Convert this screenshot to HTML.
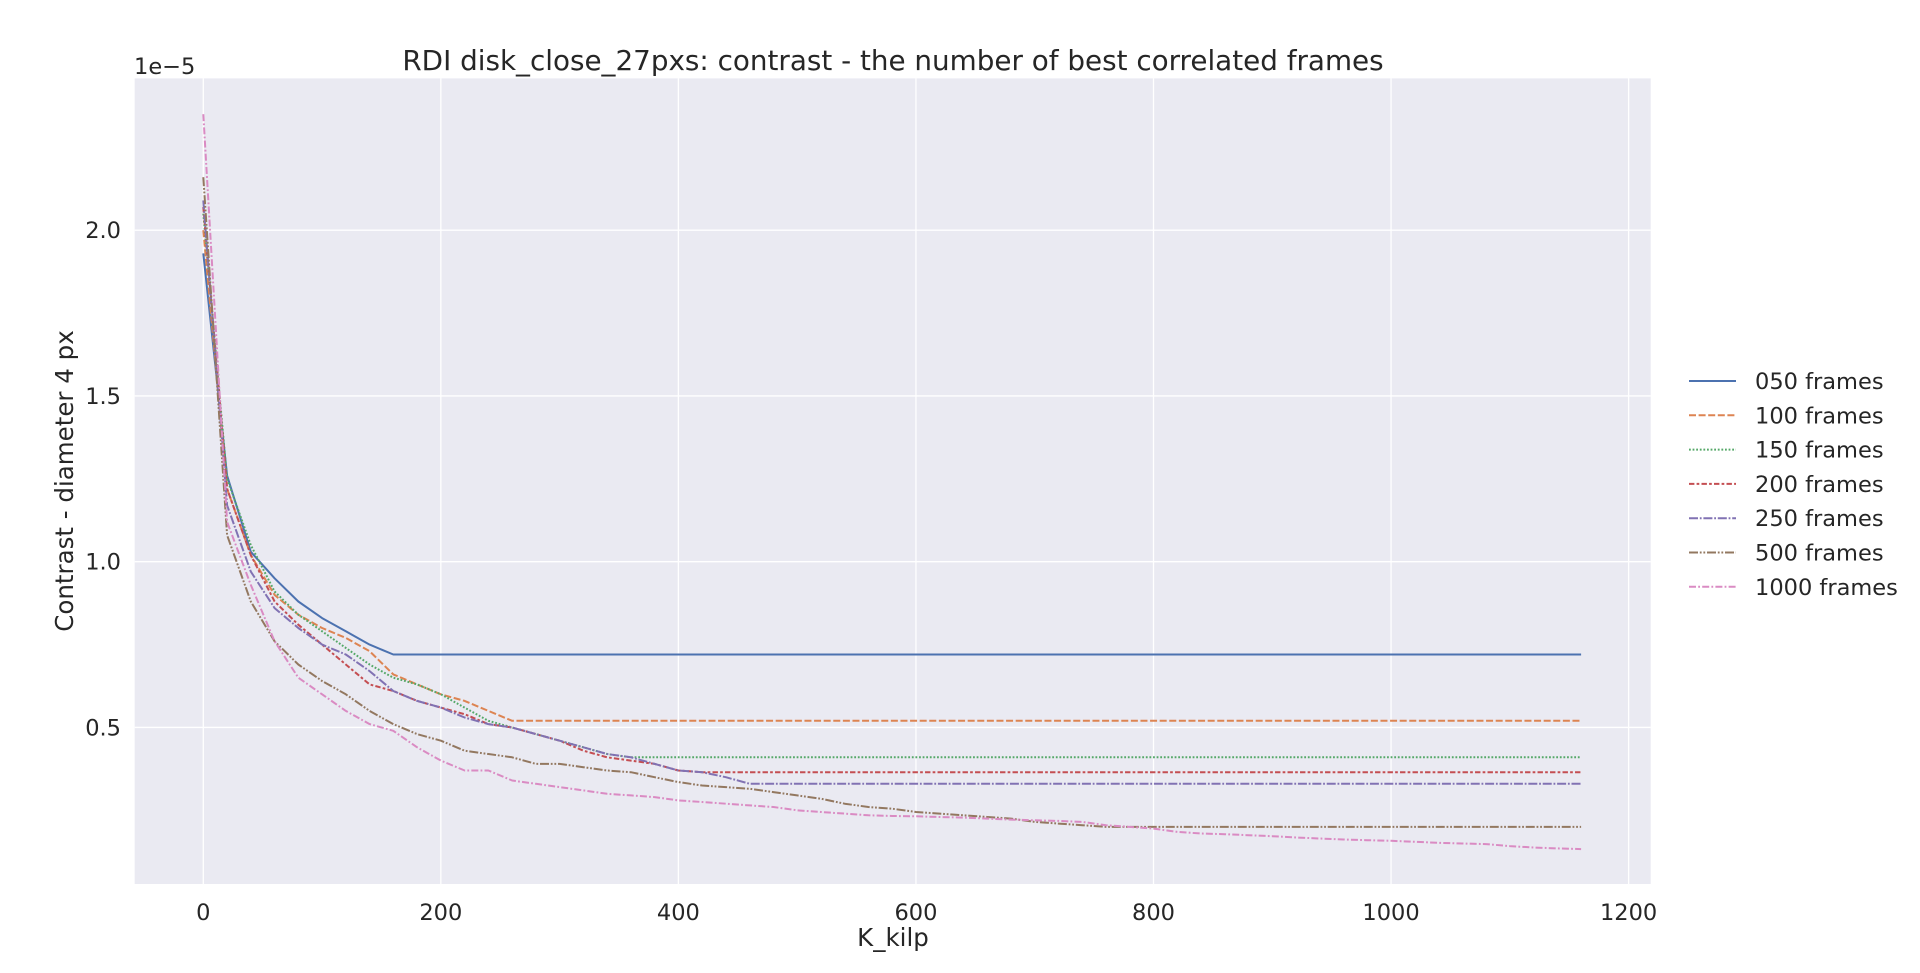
<!DOCTYPE html>
<html><head><meta charset="utf-8"><style>
html,body{margin:0;padding:0;background:#fff;}
svg{display:block;font-family:"DejaVu Sans","Liberation Sans",sans-serif;}
</style></head><body>
<svg id="chart" width="1920" height="973">
<rect x="134.7" y="78.4" width="1516" height="805.6" fill="#eaeaf2"/>
<g id="grid"></g>
<g id="series"></g>
<g id="ticks"></g>
<text x="893" y="70" text-anchor="middle" font-size="27.8" fill="#262626">RDI disk_close_27pxs: contrast - the number of best correlated frames</text>
<text x="134" y="74" font-size="22.5" fill="#262626">1e−5</text>
<text x="893" y="946" text-anchor="middle" font-size="24.5" fill="#262626">K_kilp</text>
<text transform="translate(73,481) rotate(-90)" text-anchor="middle" font-size="24.5" fill="#262626">Contrast - diameter 4 px</text>
<g id="legend"></g>
</svg>
<script>
const seriesNames = ["050 frames","100 frames","150 frames","200 frames","250 frames","500 frames","1000 frames"];
const xTicks = [0,200,400,600,800,1000,1200];
const yTicks = [0.5,1.0,1.5,2.0];
const yTickLabels = ["0.5","1.0","1.5","2.0"];
const x050 = [0,20,40,60,80,100,120,140,160,1160];
const y050 = [1.93,1.26,1.03,0.95,0.88,0.83,0.79,0.75,0.72,0.72];
const x100 = [0,20,40,60,80,100,120,140,160,180,200,220,240,260,1160];
const y100 = [2.00,1.22,1.02,0.90,0.84,0.80,0.77,0.73,0.66,0.63,0.60,0.58,0.55,0.52,0.52];
const x150 = [0,20,40,60,80,100,120,140,160,180,200,220,240,260,280,300,320,340,360,1160];
const y150 = [2.05,1.25,1.05,0.91,0.84,0.79,0.74,0.69,0.65,0.63,0.60,0.56,0.52,0.50,0.48,0.46,0.44,0.42,0.41,0.41];
const x200 = [0,20,40,60,80,100,120,140,160,180,200,220,240,260,280,300,320,340,360,380,400,420,1160];
const y200 = [2.07,1.22,1.02,0.88,0.81,0.75,0.69,0.63,0.61,0.58,0.56,0.54,0.51,0.50,0.48,0.46,0.43,0.41,0.40,0.39,0.37,0.365,0.365];
const x250 = [0,20,40,60,80,100,120,140,160,180,200,220,240,260,280,300,320,340,360,380,400,420,440,460,1160];
const y250 = [2.09,1.17,0.97,0.86,0.80,0.75,0.72,0.67,0.61,0.58,0.56,0.53,0.51,0.50,0.48,0.46,0.44,0.42,0.41,0.39,0.37,0.365,0.35,0.33,0.33];
const x500 = [0,20,40,60,80,100,120,140,160,180,200,220,240,260,280,300,320,340,360,380,400,420,440,460,480,500,520,540,560,580,600,620,640,660,680,700,720,740,760,1160];
const y500 = [2.16,1.08,0.88,0.76,0.69,0.64,0.60,0.55,0.51,0.48,0.46,0.43,0.42,0.41,0.39,0.39,0.38,0.37,0.365,0.35,0.335,0.325,0.32,0.315,0.305,0.295,0.285,0.27,0.26,0.255,0.245,0.24,0.235,0.23,0.225,0.215,0.21,0.205,0.20,0.20];
const x1000 = [0,20,40,60,80,100,120,140,160,180,200,220,240,260,280,300,320,340,360,380,400,420,440,460,480,500,520,540,560,580,600,620,640,660,680,700,720,740,760,780,800,820,840,860,880,900,920,940,960,980,1000,1020,1040,1060,1080,1100,1120,1140,1160];
const y1000 = [2.35,1.12,0.93,0.76,0.65,0.60,0.55,0.51,0.49,0.44,0.40,0.37,0.37,0.34,0.33,0.32,0.31,0.30,0.295,0.29,0.28,0.275,0.27,0.265,0.26,0.25,0.245,0.24,0.235,0.233,0.232,0.23,0.228,0.225,0.222,0.22,0.218,0.215,0.205,0.20,0.195,0.185,0.18,0.178,0.175,0.172,0.168,0.165,0.162,0.16,0.158,0.155,0.152,0.15,0.148,0.142,0.138,0.135,0.133];

const NS="http://www.w3.org/2000/svg";
const L=134.7,R=1650.7,T=78.4,B=884;
function sx(v){return 203.3+v*1.18775;}
function sy(v){return 230.2+(2.0-v)*331.5;}
const colors=["#4c72b0","#dd8452","#55a868","#c44e52","#8172b3","#937860","#da8bc3"];
const dashes=["","7,2.6","1.8,1.8","5.4,2.2,2.7,2.2","9,1.8,1.8,1.8","9,1.8,1.8,1.8,1.8,1.8","7,2.2,1.8,2.2"];
const xsAll=[x050,x100,x150,x200,x250,x500,x1000];
const ysAll=[y050,y100,y150,y200,y250,y500,y1000];
function mk(tag,attrs,parent){const e=document.createElementNS(NS,tag);for(const k in attrs)e.setAttribute(k,attrs[k]);parent.appendChild(e);return e;}
const grid=document.getElementById('grid'),ticks=document.getElementById('ticks');
xTicks.forEach(v=>{
  const ln=mk('line',{x1:sx(v),x2:sx(v),y1:T,y2:B,stroke:'#fff','stroke-width':1.3},grid);
  
  
  const t=mk('text',{x:sx(v),y:920,'text-anchor':'middle','font-size':22.5,fill:'#262626'},ticks);
  t.textContent=String(v);
  
  
});
yTicks.forEach((v,i)=>{
  const ln=mk('line',{x1:L,x2:R,y1:sy(v),y2:sy(v),stroke:'#fff','stroke-width':1.3},grid);
  
  
  const t=mk('text',{x:121,y:sy(v)+8,'text-anchor':'end','font-size':22.5,fill:'#262626'},ticks);
  t.textContent=yTickLabels[i];
  
  
});
const sg=document.getElementById('series');
xsAll.forEach((xs,i)=>{
  const ys=ysAll[i];
  const pts=xs.map((x,j)=>sx(x).toFixed(1)+','+sy(ys[j]).toFixed(1)).join(' ');
  const p=mk('polyline',{points:pts,fill:'none',stroke:colors[i],'stroke-width':2,'stroke-dasharray':dashes[i],'stroke-linejoin':'round'},sg);
  
  
});
const lg=document.getElementById('legend');
seriesNames.forEach((n,i)=>{
  const y=381+i*34.3;
  const g=mk('g',{},lg);
  
  
  mk('line',{x1:1689,x2:1736,y1:y,y2:y,stroke:colors[i],'stroke-width':2,'stroke-dasharray':dashes[i]},g);
  const t=mk('text',{x:1755,y:y+8,'font-size':22.5,fill:'#262626'},g);
  t.textContent=n;
});
</script>
</body></html>
